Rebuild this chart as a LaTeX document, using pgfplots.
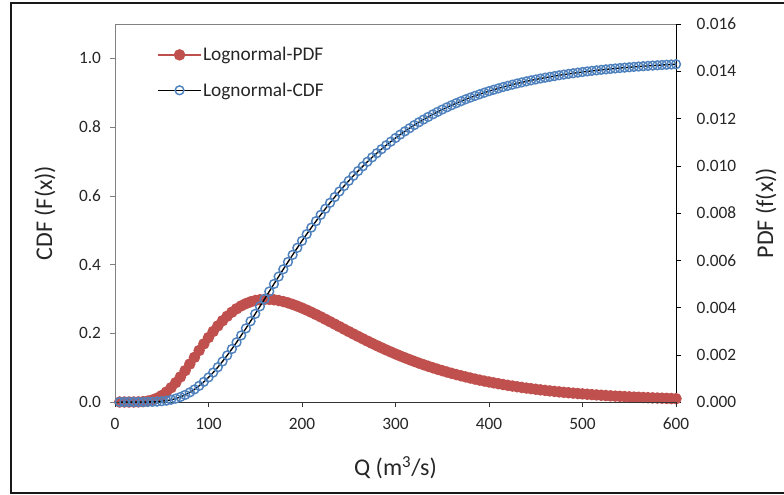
\documentclass[border=0pt]{standalone}
\usepackage{fontspec}
\setmainfont{Carlito}
\usepackage{pgfplots}
\pgfplotsset{compat=1.18}
\usepackage{pgfplotstable}
\definecolor{pdfred}{RGB}{192,80,77}
\definecolor{cdfblue}{RGB}{79,129,189}

% Q, CDF, PDF
\pgfplotstableread{
x cdf pdf
5 0 0
10 0 0
15 0 0.0000001
20 0 0.0000007
25 0.00001 0.0000041
30 0.00005 0.0000147
35 0.00018 0.0000398
40 0.00049 0.0000870
45 0.0011 0.0001633
50 0.0022 0.0002742
55 0.0039 0.0004217
60 0.0065 0.000605
65 0.0100 0.000821
70 0.0147 0.001063
75 0.0207 0.001328
80 0.0280 0.001607
85 0.0367 0.001891
90 0.0470 0.002180
95 0.0586 0.002460
100 0.0715 0.002729
105 0.0858 0.002985
110 0.1013 0.003222
115 0.1180 0.003439
120 0.1357 0.003631
125 0.1543 0.003802
130 0.1736 0.003946
135 0.1938 0.004069
140 0.2142 0.004165
145 0.2351 0.004240
150 0.2565 0.004295
155 0.2783 0.004330
160 0.2998 0.004345
165 0.3217 0.004344
170 0.3435 0.004327
175 0.3650 0.004296
180 0.3863 0.004251
185 0.4075 0.004196
190 0.4282 0.004131
195 0.4487 0.004058
200 0.4689 0.003977
205 0.4884 0.003891
210 0.5076 0.003799
215 0.5263 0.003703
220 0.5446 0.003604
225 0.5624 0.003503
230 0.5797 0.003400
235 0.5964 0.003296
240 0.6126 0.003191
245 0.6285 0.003086
250 0.6436 0.002982
255 0.6584 0.002879
260 0.6722 0.002778
265 0.6858 0.002678
270 0.6992 0.002579
275 0.7119 0.002482
280 0.7241 0.002387
285 0.7357 0.002296
290 0.7470 0.002205
295 0.7577 0.002119
300 0.7682 0.002033
305 0.7782 0.001951
310 0.7876 0.001872
315 0.7967 0.001795
320 0.8057 0.001720
325 0.8141 0.001648
330 0.8220 0.001579
335 0.8297 0.001512
340 0.8372 0.001448
345 0.8442 0.001386
350 0.8511 0.001326
355 0.8575 0.001269
360 0.8637 0.001214
365 0.8697 0.001161
370 0.8753 0.001111
375 0.8808 0.001062
380 0.8859 0.001016
385 0.8908 0.000971
390 0.8956 0.000928
395 0.9002 0.000887
400 0.9046 0.000848
405 0.9087 0.000810
410 0.9126 0.000775
415 0.9165 0.000740
420 0.9201 0.000707
425 0.9235 0.000676
430 0.9269 0.000646
435 0.9300 0.000617
440 0.9331 0.000590
445 0.9359 0.000564
450 0.9386 0.000539
455 0.9413 0.000515
460 0.9438 0.000492
465 0.9462 0.000470
470 0.9484 0.000450
475 0.9507 0.000429
480 0.9528 0.000410
485 0.9548 0.000393
490 0.9567 0.000375
495 0.9585 0.000358
500 0.9603 0.000343
505 0.9620 0.000328
510 0.9636 0.000313
515 0.9651 0.000299
520 0.9666 0.000286
525 0.9680 0.000274
530 0.9693 0.000261
535 0.9706 0.000250
540 0.9718 0.000239
545 0.9730 0.000229
550 0.9741 0.000219
555 0.9752 0.000209
560 0.9762 0.000200
565 0.9772 0.000192
570 0.9781 0.000183
575 0.9790 0.000175
580 0.9799 0.000168
585 0.9807 0.000161
590 0.9815 0.000154
595 0.9822 0.000147
600 0.9830 0.000141
}\lognormal

\begin{document}
\begin{tikzpicture}
\path[use as bounding box] (0,0) rectangle (588pt,370.5pt);
\draw[black!90, line width=1.5pt] (8.25pt,1.1pt) rectangle (620pt,368.6pt);

\pgfplotsset{
  base/.style={
    scale only axis, width=420.75pt, height=283.5pt,
    at={(86.25pt,69pt)}, anchor=south west,
    xmin=0, xmax=600, clip=false,
    tick align=outside, major tick length=4pt,
    tick label style={font=\fontsize{13}{15}\selectfont, text=black!85},
    /pgf/number format/assume math mode=true,
    label style={font=\fontsize{18}{21}\selectfont, text=black!85},
  }
}

% right axis: PDF
\begin{axis}[base,
    axis x line=none, axis y line*=right,
    y axis line style={black,-}, ytick style={black},
    ymin=0, ymax=0.016,
    ytick={0,0.002,0.004,0.006,0.008,0.010,0.012,0.014,0.016},
    scaled y ticks=false,
    yticklabel style={xshift=8pt, /pgf/number format/.cd, fixed, fixed zerofill, precision=3},
    ylabel={PDF (f(x))},
    ylabel style={at={([xshift=67.5pt]axis description cs:1,0.5)}, anchor=center},
]
\addplot[pdfred, line width=1.2pt, mark=*, mark size=3.7pt,
    mark options={fill=pdfred, draw=pdfred, solid}]
    table[x=x, y=pdf] {\lognormal};
\end{axis}

% left axis: CDF
\begin{axis}[base,
    axis x line*=bottom, axis y line*=left,
    x axis line style={black!80,-}, y axis line style={black!50,-},
    xtick style={black!80}, ytick style={black!50},
    xtick={0,100,200,300,400,500,600},
    xticklabel style={yshift=-4.5pt},
    ymin=0, ymax=1.1,
    ytick={0,0.2,0.4,0.6,0.8,1.0},
    yticklabel style={xshift=-3pt, /pgf/number format/.cd, fixed, fixed zerofill, precision=1},
    xlabel={Q (m\textsuperscript{3}/s)},
    ylabel={CDF (F(x))},
    xlabel style={at={([yshift=-49.5pt]axis description cs:0.5,0)}, anchor=center},
    ylabel style={at={([xshift=-52.5pt]axis description cs:0,0.5)}, anchor=center},
    legend style={at={(0.068,0.95)}, anchor=north west, draw=none, fill=none,
        font=\fontsize{14.5}{17}\selectfont, text=black!85, row sep=13pt,
        nodes={inner sep=1pt}},
    legend cell align=left,
    legend image code/.code={
        \draw[mark repeat=2, mark phase=2, #1]
            plot coordinates {(0pt,0pt) (16pt,0pt) (32pt,0pt)};},
]
\draw[black!50] (rel axis cs:0,1) -- (rel axis cs:1,1);
\addlegendimage{pdfred, line width=1.2pt, mark=*, mark size=3.7pt,
    mark options={fill=pdfred, draw=pdfred, solid}}
\addlegendentry{Lognormal-PDF}
\addplot[black, line width=1pt, mark=o, mark size=3.3pt,
    mark options={draw=cdfblue, line width=1.1pt, solid}]
    table[x=x, y=cdf] {\lognormal};
\addlegendentry{Lognormal-CDF}
\end{axis}
\end{tikzpicture}
\end{document}
